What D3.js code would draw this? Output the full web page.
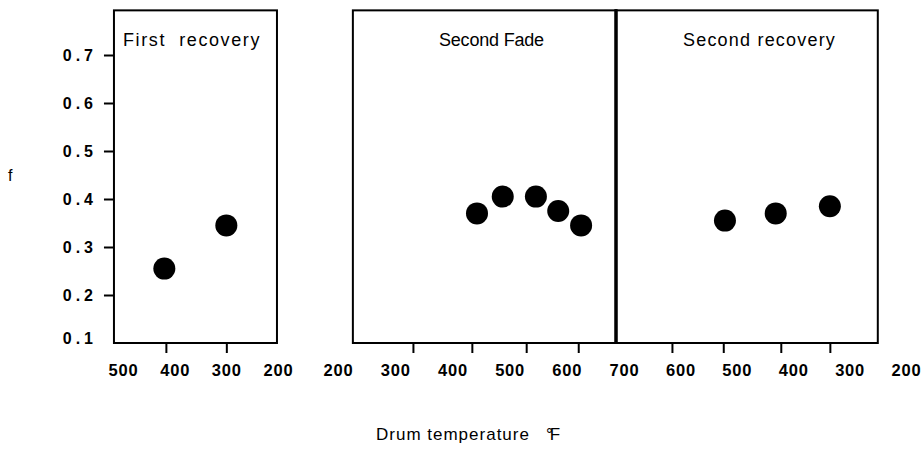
<!DOCTYPE html>
<html>
<head>
<meta charset="utf-8">
<script src="https://cdn.jsdelivr.net/npm/d3@7"></script>
<style>
  html, body { margin: 0; padding: 0; background: #fff; }
  svg { display: block; font-family: "Liberation Sans", Arial, Helvetica, sans-serif; }
</style>
</head>
<body>
<svg id="chart" width="923" height="455"></svg>
<script>
// Friction coefficient f against drum temperature, three test stages.
const panelTitles = ["First\u00a0\u00a0recovery", "Second Fade", "Second recovery"];

const firstRecoveryTemp = [420, 300];
const firstRecoveryF    = [0.255, 0.345];

const secondFadeTemp = [443, 488, 546, 585, 625];
const secondFadeF    = [0.37, 0.405, 0.405, 0.375, 0.345];

const secondRecoveryTemp = [521, 431, 335];
const secondRecoveryF    = [0.355, 0.37, 0.385];

// Temperature tick marks along each panel's base
const firstRecoveryTicks  = [417, 300];
const secondFadeTicks     = [331, 434, 529, 620];
const secondRecoveryTicks = [615, 524, 422, 335];

// Temperature labels under each panel
const firstRecoveryLabels  = [500, 400, 300, 200];
const secondFadeLabels     = [200, 300, 400, 500, 600, 700];
const secondRecoveryLabels = [600, 500, 400, 300, 200];

const fTicks = [0.1, 0.2, 0.3, 0.4, 0.5, 0.6, 0.7];
const fMin = 0.1, fMax = 0.793;

const svg = d3.select("#chart");

const y = d3.scaleLinear().domain([0.1, 0.7]).range([343, 55]);

const panels = [
  { title: panelTitles[0], temps: firstRecoveryTemp, f: firstRecoveryF,
    ticks: firstRecoveryTicks, labels: firstRecoveryLabels,
    x: d3.scaleLinear().domain([500, 200]).range([123, 278]),
    extent: [517.5, 202], titleX: 123, spacing: 1.6, divider: false },
  { title: panelTitles[1], temps: secondFadeTemp, f: secondFadeF,
    ticks: secondFadeTicks, labels: secondFadeLabels,
    x: d3.scaleLinear().domain([200, 700]).range([338, 624]),
    extent: [226, 686], titleX: 439, spacing: -0.2, divider: true },
  { title: panelTitles[2], temps: secondRecoveryTemp, f: secondRecoveryF,
    ticks: secondRecoveryTicks, labels: secondRecoveryLabels,
    x: d3.scaleLinear().domain([700, 200]).range([624, 906]),
    extent: [714, 250], titleX: 683, spacing: 1.2, divider: false }
];

panels.forEach(p => {
  const g = svg.append("g");
  const x0 = p.x(p.extent[0]), x1 = p.x(p.extent[1]);
  const yTop = y(fMax), yBot = y(fMin);

  // frame
  g.append("rect")
    .attr("x", x0).attr("y", yTop)
    .attr("width", x1 - x0).attr("height", yBot - yTop)
    .attr("fill", "none").attr("stroke", "#000").attr("stroke-width", 2);

  if (p.divider) {
    g.append("line")
      .attr("x1", x1).attr("x2", x1)
      .attr("y1", yTop - 1).attr("y2", yBot + 1)
      .attr("stroke", "#000").attr("stroke-width", 3.5);
  }

  // tick marks below the frame
  const tickAxis = g.append("g")
    .attr("transform", `translate(0,${yBot})`)
    .call(d3.axisBottom(p.x).tickValues(p.ticks).tickSize(10).tickFormat(""));
  tickAxis.select(".domain").remove();
  tickAxis.selectAll(".tick line").attr("stroke", "#000").attr("stroke-width", 2);

  // temperature labels
  const labelAxis = g.append("g")
    .attr("transform", `translate(0,${yBot})`)
    .call(d3.axisBottom(p.x).tickValues(p.labels).tickSize(0).tickPadding(21).tickFormat(d3.format("d")));
  labelAxis.select(".domain").remove();
  labelAxis.selectAll(".tick text")
    .attr("font-family", "'Liberation Sans', Arial, sans-serif")
    .attr("font-size", 16.5).attr("font-weight", "bold")
    .attr("letter-spacing", 0.8)
    .attr("fill", "#000");

  // panel title
  g.append("text")
    .attr("x", p.titleX).attr("y", 46)
    .attr("font-size", 18).attr("letter-spacing", p.spacing)
    .attr("fill", "#000")
    .text(p.title);

  // data points
  g.selectAll("circle")
    .data(p.temps.map((t, i) => [t, p.f[i]]))
    .join("circle")
    .attr("cx", d => p.x(d[0]))
    .attr("cy", d => y(d[1]))
    .attr("r", 11)
    .attr("fill", "#000");
});

// f axis on the left of the first panel
const leftX = panels[0].x(panels[0].extent[0]);
const yAxis = svg.append("g")
  .attr("transform", `translate(${leftX},0)`)
  .call(d3.axisLeft(y).tickValues(fTicks.filter(v => v > 0.1)).tickSize(10).tickFormat(""));
yAxis.select(".domain").remove();
yAxis.selectAll(".tick line").attr("stroke", "#000").attr("stroke-width", 2);

svg.append("g").selectAll("text")
  .data(fTicks)
  .join("text")
  .attr("x", 97)
  .attr("y", d => d === 0.1 ? y(d) - 5 : y(d))
  .attr("dy", "0.36em")
  .attr("text-anchor", "end")
  .attr("font-size", 16).attr("font-weight", "bold")
  .attr("letter-spacing", 4)
  .attr("fill", "#000")
  .text(d => d3.format(".1f")(d));

// axis titles
svg.append("text")
  .attr("x", 8).attr("y", 181)
  .attr("font-size", 16).attr("fill", "#000")
  .text("f");

svg.append("text")
  .attr("x", 376).attr("y", 440)
  .attr("font-size", 17).attr("letter-spacing", 1)
  .attr("fill", "#000")
  .text("Drum temperature");

svg.append("text")
  .attr("x", 546).attr("y", 440)
  .attr("font-size", 17).attr("letter-spacing", -3)
  .attr("fill", "#000")
  .text("°F");
</script>
</body>
</html>
